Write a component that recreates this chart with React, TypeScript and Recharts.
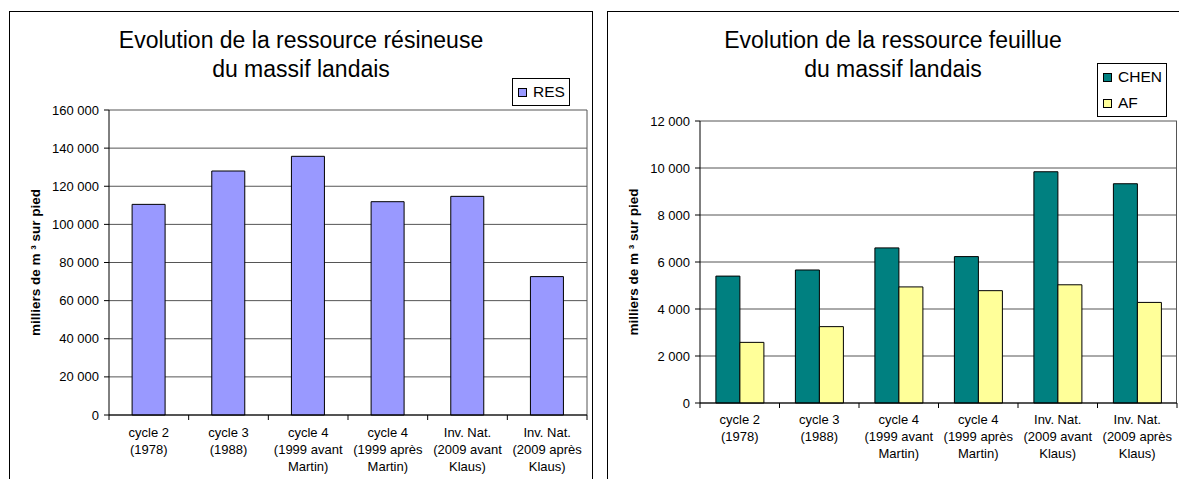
import React from "react";
import { BarChart, Bar, XAxis, YAxis, CartesianGrid, Legend } from "recharts";

const CATEGORIES = [
  "cycle 2\n(1978)",
  "cycle 3\n(1988)",
  "cycle 4\n(1999 avant\nMartin)",
  "cycle 4\n(1999 après\nMartin)",
  "Inv. Nat.\n(2009 avant\nKlaus)",
  "Inv. Nat.\n(2009 après\nKlaus)",
];

// milliers de m3 sur pied
const RES = [110500, 128000, 135700, 111900, 114700, 72600];
const CHEN = [5400, 5660, 6600, 6230, 9840, 9330];
const AF = [2580, 3250, 4940, 4780, 5030, 4280];

const RES_TICKS = [0, 20000, 40000, 60000, 80000, 100000, 120000, 140000, 160000];
const FEUILLU_TICKS = [0, 2000, 4000, 6000, 8000, 10000, 12000];

const TITLE_RES = ["Evolution de la ressource résineuse", "du massif landais"];
const TITLE_FEUILLU = ["Evolution de la ressource feuillue", "du massif landais"];
const Y_LABEL = "milliers de m ³ sur pied";

const resData = CATEGORIES.map((c, i) => ({ cat: c, RES: RES[i] }));
const feuilluData = CATEGORIES.map((c, i) => ({ cat: c, CHEN: CHEN[i], AF: AF[i] }));

const FONT = "'Liberation Sans', Arial, Helvetica, sans-serif";

// French thousands separator: 160 000
const fmt = (v: number) => String(v).replace(/\B(?=(\d{3})+(?!\d))/g, " ");

function makeCategoryTick(band: number, count: number, firstLine: number) {
  return function CategoryTick(props: any) {
    const { x, y, payload, index } = props;
    const lines = String(payload.value).split("\n");
    const left = x - band / 2;
    return (
      <g>
        <line x1={left} x2={left} y1={y} y2={y + 5} stroke="#000" />
        {index === count - 1 && (
          <line x1={x + band / 2} x2={x + band / 2} y1={y} y2={y + 5} stroke="#000" />
        )}
        <text x={x} y={y + firstLine} textAnchor="middle" fontSize={13} fill="#000">
          {lines.map((l, i) => (
            <tspan key={i} x={x} dy={i === 0 ? 0 : 17}>
              {l}
            </tspan>
          ))}
        </text>
      </g>
    );
  };
}

function makeYLabel(x: number) {
  return function YLabel(props: any) {
    const vb = props.viewBox;
    const cy = vb.y + vb.height / 2;
    return (
      <text
        x={x}
        y={cy}
        transform={`rotate(-90 ${x} ${cy})`}
        textAnchor="middle"
        dominantBaseline="central"
        fontSize={13.5}
        fontWeight="bold"
        fill="#000"
      >
        {Y_LABEL}
      </text>
    );
  };
}

// legend in a framed box, series kept in the given order
function makeLegend(order: string[]) {
  return function BoxLegend(props: any) {
    const items = [...(props.payload || [])].sort(
      (a: any, b: any) => order.indexOf(a.value) - order.indexOf(b.value),
    );
    return (
      <div
        style={{
          border: "1px solid #000",
          background: "#fff",
          padding: "0 4px 0 5px",
          fontSize: 15.5,
          color: "#000",
        }}
      >
        {items.map((entry: any) => (
          <div key={entry.value} style={{ display: "flex", alignItems: "center", height: 26 }}>
            <span
              style={{
                display: "inline-block",
                width: 9,
                height: 9,
                boxSizing: "border-box",
                border: "1px solid #000",
                background: entry.color,
                marginRight: 6,
              }}
            />
            {entry.value}
          </div>
        ))}
      </div>
    );
  };
}

function Title({ lines, left, width }: { lines: string[]; left: number; width: number }) {
  return (
    <div
      style={{
        position: "absolute",
        left,
        top: 26,
        width,
        textAlign: "center",
        fontSize: 23,
        lineHeight: "29px",
        color: "#000",
      }}
    >
      {lines.map((l) => (
        <div key={l}>{l}</div>
      ))}
    </div>
  );
}

const boxStyle: React.CSSProperties = {
  position: "absolute",
  top: 11,
  height: 500,
  boxSizing: "border-box",
  border: "1.5px solid #000",
};

export default function App() {
  return (
    <div
      style={{
        position: "absolute",
        left: 0,
        top: 0,
        width: 1179,
        height: 479,
        overflow: "hidden",
        background: "#fff",
        fontFamily: FONT,
      }}
    >
      <div style={{ ...boxStyle, left: 9, width: 584 }} />
      <div style={{ ...boxStyle, left: 607, width: 580 }} />

      <div style={{ position: "absolute", left: 9, top: 11 }}>
        <BarChart
          width={584}
          height={468}
          data={resData}
          margin={{ top: 99, right: 6, bottom: 4, left: 0 }}
          barCategoryGap="29%"
        >
          <CartesianGrid stroke="#555" verticalPoints={[578]} />
          <XAxis
            dataKey="cat"
            height={60}
            interval={0}
            tickSize={0}
            tickMargin={0}
            axisLine={{ stroke: "#000" }}
            tickLine={false}
            tick={makeCategoryTick(478 / 6, 6, 22)}
          />
          <YAxis
            width={100}
            domain={[0, 160000]}
            ticks={RES_TICKS}
            tickFormatter={fmt}
            tickSize={5}
            tickMargin={5}
            axisLine={{ stroke: "#000" }}
            tickLine={{ stroke: "#000" }}
            tick={{ fill: "#000", fontSize: 13 }}
            label={makeYLabel(26)}
          />
          <Legend
            layout="vertical"
            align="center"
            verticalAlign="middle"
            content={makeLegend(["RES"])}
            wrapperStyle={{ left: 503, top: 67, width: "auto", height: "auto" }}
          />
          <Bar dataKey="RES" fill="#9999FF" stroke="#000" strokeWidth={1} isAnimationActive={false} />
        </BarChart>
      </div>

      <div style={{ position: "absolute", left: 607, top: 11 }}>
        <BarChart
          width={572}
          height={468}
          data={feuilluData}
          margin={{ top: 110, right: 2, bottom: 16, left: 0 }}
          barCategoryGap="20%"
          barGap={0}
        >
          <CartesianGrid stroke="#555" verticalPoints={[569.5]} />
          <XAxis
            dataKey="cat"
            height={60}
            interval={0}
            tickSize={0}
            tickMargin={0}
            axisLine={{ stroke: "#000" }}
            tickLine={false}
            tick={makeCategoryTick(477 / 6, 6, 21)}
          />
          <YAxis
            width={93}
            domain={[0, 12000]}
            ticks={FEUILLU_TICKS}
            tickFormatter={fmt}
            tickSize={5}
            tickMargin={5}
            axisLine={{ stroke: "#000" }}
            tickLine={{ stroke: "#000" }}
            tick={{ fill: "#000", fontSize: 13 }}
            label={makeYLabel(26)}
          />
          <Legend
            layout="vertical"
            align="center"
            verticalAlign="middle"
            content={makeLegend(["CHEN", "AF"])}
            wrapperStyle={{ left: 490, top: 52, width: "auto", height: "auto" }}
          />
          <Bar dataKey="CHEN" fill="#008080" stroke="#000" strokeWidth={1} isAnimationActive={false} />
          <Bar dataKey="AF" fill="#FFFF99" stroke="#000" strokeWidth={1} isAnimationActive={false} />
        </BarChart>
      </div>

      <Title lines={TITLE_RES} left={9} width={584} />
      <Title lines={TITLE_FEUILLU} left={607} width={572} />
    </div>
  );
}
